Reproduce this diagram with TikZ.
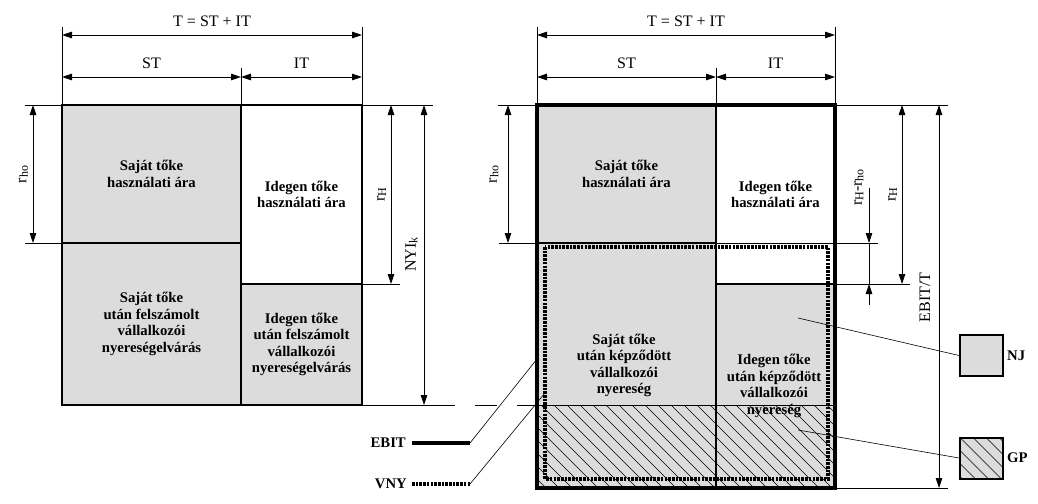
\documentclass[tikz,border=0pt]{standalone}
\usepackage{fontspec}
\setmainfont{Liberation Serif}
\usetikzlibrary{arrows.meta}
\definecolor{fillgray}{HTML}{DCDCDC}
\newcommand{\lowsub}[1]{\raisebox{-1.5pt}{\fontsize{12}{12}\selectfont #1}}
\begin{document}
\begin{tikzpicture}[x=1pt,y=-1pt,
  tip/.tip={Triangle[length=10pt,width=6.5pt]},
  dim/.style={line width=0.8pt,tip-tip},
  dimend/.style={line width=0.8pt,-tip},
  ext/.style={line width=0.7pt},
  lbl/.style={font=\fontsize{16}{18}\selectfont, inner sep=0pt},
  rlbl/.style={lbl, rotate=90},
  celltext/.style={font=\bfseries\fontsize{14.7}{16.4}\selectfont, align=center, inner sep=0pt},
  legtext/.style={font=\bfseries\fontsize{14.7}{16.4}\selectfont, inner sep=0pt},
  wall/.style={line width=2pt},
  outer/.style={line width=4pt},
  vny/.style={line width=3.2pt, dash pattern=on 2.6pt off 1.1pt},
  hatch/.style={line width=0.55pt},
  conn/.style={line width=0.6pt},
]
\useasboundingbox (0,0) rectangle (1038,503);

% ================= LEFT DIAGRAM =================
\fill[fillgray] (62,105) rectangle (241,405);
\fill[fillgray] (241,284) rectangle (362,405);
\draw[wall] (62,105) rectangle (362,405);
\draw[wall] (241,105) -- (241,405);
\draw[wall] (62,243) -- (241,243);
\draw[wall] (241,284) -- (362,284);

\node[celltext] (L1) at (151.5,174) {Saját tőke\\használati ára};
\node[celltext] (L2) at (301.5,194.5) {Idegen tőke\\használati ára};
\node[celltext] (L3) at (151.5,324) {Saját tőke\\után felszámolt\\vállalkozói\\nyereségelvárás};
\node[celltext] (L4) at (301.5,344.5) {Idegen tőke\\után felszámolt\\vállalkozói\\nyereségelvárás};

% extension lines
\coordinate (la1) at (62,27);   \coordinate (la2) at (62,105);
\coordinate (lb1) at (362,27);  \coordinate (lb2) at (362,105);
\coordinate (lc1) at (241,68);  \coordinate (lc2) at (241,105);
\draw[ext] (la1) -- (la2);
\draw[ext] (lb1) -- (lb2);
\draw[ext] (lc1) -- (lc2);
\coordinate (lh1) at (25,105);  \coordinate (lh2) at (433,105);
\draw[ext] (lh1) -- (lh2);
\coordinate (lr1) at (25,243);  \coordinate (lr2) at (62,243);
\draw[ext] (lr1) -- (lr2);
\coordinate (lH1) at (362,284); \coordinate (lH2) at (400,284);
\draw[ext] (lH1) -- (lH2);
\coordinate (lB1) at (362,405); \coordinate (lB2) at (455,405); \coordinate (lB3) at (537,405);
\draw[ext] (lB1) -- (lB2);
\draw[ext, dash pattern=on 22pt off 20pt, dash phase=22pt] (lB2) -- (lB3);

% dimension arrows
\coordinate (lT1) at (62,35);  \coordinate (lT2) at (362,35);
\draw[dim] (lT1) -- (lT2);
\node[lbl] (lTt) at (212,21) {T = ST + IT};
\coordinate (lS1) at (62,77);  \coordinate (lS2) at (241,77); \coordinate (lS3) at (362,77);
\draw[dim] (lS1) -- (lS2);
\draw[dim] (lS2) -- (lS3);
\node[lbl] (lSt) at (151.5,63) {ST};
\node[lbl] (lIt) at (301.5,63) {IT};
\coordinate (lrho1) at (33,105); \coordinate (lrho2) at (33,243);
\draw[dim] (lrho1) -- (lrho2);
\node[rlbl] (lrhot) at (23.5,174.5) {r\lowsub{ho}};
\coordinate (lrH1) at (391,105); \coordinate (lrH2) at (391,284);
\draw[dim] (lrH1) -- (lrH2);
\node[rlbl] (lrHt) at (381.5,195) {r\lowsub{H}};
\coordinate (lny1) at (424,105); \coordinate (lny2) at (424,405);
\draw[dim] (lny1) -- (lny2);
\node[rlbl] (lnyt) at (411.5,254.7) {NYI\lowsub{k}};

% ================= RIGHT DIAGRAM =================
\fill[fillgray] (537,105) rectangle (716,488);
\fill[fillgray] (716,284) rectangle (835,488);
\begin{scope}
  \clip (537,405) rectangle (835,488);
  \foreach \i in {0,...,30}
    \draw[hatch] ({450+\i*13},405) -- ++(90,90);
\end{scope}
\coordinate (rg1) at (537,405); \coordinate (rg2) at (835,405);
\draw[ext] (rg1) -- (rg2);
\draw[wall] (716,105) -- (716,488);
\draw[wall] (537,243) -- (716,243);
\draw[wall] (716,284) -- (835,284);

\node[celltext] (R1) at (626.5,174) {Saját tőke\\használati ára};
\node[celltext] (R2) at (775.5,194.5) {Idegen tőke\\használati ára};
\node[celltext] (R3) at (624,365.5) {Saját tőke\\után képződött\\vállalkozói\\nyereség};
\node[celltext] (R4) at (774,386) {Idegen tőke\\után képződött\\vállalkozói\\nyereség};

% extension lines
\coordinate (ra1) at (537,27);  \coordinate (ra2) at (537,105);
\coordinate (rb1) at (835,27);  \coordinate (rb2) at (835,105);
\coordinate (rc1) at (716,68);  \coordinate (rc2) at (716,105);
\draw[ext] (ra1) -- (ra2);
\draw[ext] (rb1) -- (rb2);
\draw[ext] (rc1) -- (rc2);
\coordinate (rh1) at (498,105); \coordinate (rh2) at (948,105);
\draw[ext] (rh1) -- (rh2);
\coordinate (rr1) at (499,243); \coordinate (rr2) at (878,243);
\draw[ext] (rr1) -- (rr2);
\coordinate (rH1) at (835,284); \coordinate (rH2) at (910,284);
\draw[ext] (rH1) -- (rH2);
\coordinate (rB1) at (835,488); \coordinate (rB2) at (948,488);
\draw[ext] (rB1) -- (rB2);

% VNY frame and outer EBIT frame
\draw[vny] (545,247) rectangle (828,479);
\draw[outer] (537,105) rectangle (835,488);

% dimension arrows
\coordinate (rT1) at (537,35);  \coordinate (rT2) at (835,35);
\draw[dim] (rT1) -- (rT2);
\node[lbl] (rTt) at (686,21) {T = ST + IT};
\coordinate (rS1) at (537,77);  \coordinate (rS2) at (716,77); \coordinate (rS3) at (835,77);
\draw[dim] (rS1) -- (rS2);
\draw[dim] (rS2) -- (rS3);
\node[lbl] (rSt) at (626.5,63) {ST};
\node[lbl] (rIt) at (775.5,63) {IT};
\coordinate (rrho1) at (508,105); \coordinate (rrho2) at (508,243);
\draw[dim] (rrho1) -- (rrho2);
\node[rlbl] (rrhot) at (494,174.5) {r\lowsub{ho}};
\coordinate (rd0) at (869,188); \coordinate (rd1) at (869,243);
\coordinate (rd2) at (869,284); \coordinate (rd3) at (869,305);
\draw[dimend] (rd0) -- (rd1);
\draw[ext] (rd1) -- (rd2);
\draw[dimend] (rd3) -- (rd2);
\node[rlbl] (rdt) at (859,187.5) {r\lowsub{H}-r\lowsub{ho}};
\coordinate (rrH1) at (902,105); \coordinate (rrH2) at (902,284);
\draw[dim] (rrH1) -- (rrH2);
\node[rlbl] (rrHt) at (892.5,195) {r\lowsub{H}};
\coordinate (reb1) at (939,105); \coordinate (reb2) at (939,488);
\draw[dim] (reb1) -- (reb2);
\node[rlbl] (rebt) at (925,297.5) {EBIT/T};

% ================= LEGEND =================
\node[legtext, anchor=east] (ebitt) at (406,443) {EBIT};
\coordinate (ebA) at (412,443); \coordinate (ebB) at (470,443); \coordinate (ebC) at (537,359);
\draw[line width=4pt] (ebA) -- (ebB);
\draw[conn] (ebB) -- (ebC);
\node[legtext, anchor=east] (vnyt) at (407,484) {VNY};
\coordinate (vyA) at (412,484); \coordinate (vyB) at (470,484); \coordinate (vyC) at (545,393);
\draw[vny] (vyA) -- (vyB);
\draw[conn] (vyB) -- (vyC);

\node[draw, fill=fillgray, line width=2pt, minimum width=43pt, minimum height=41pt, inner sep=0pt] (nj) at (981.5,355.5) {};
\node[legtext, anchor=west] (njt) at (1007,355.5) {NJ};
\node[draw, fill=fillgray, line width=2pt, minimum width=43pt, minimum height=41pt, inner sep=0pt,
  path picture={\foreach \k in {-4,...,4}
     \draw[hatch] ([xshift=\k*13pt]path picture bounding box.north west) -- ++(60,60);}] (gp) at (981.5,458) {};
\node[legtext, anchor=west] (gpt) at (1007,458) {GP};
\coordinate (njA) at (798,318);
\draw[conn] (njA) -- (nj.west);
\coordinate (gpA) at (798,430);
\draw[conn] (gpA) -- (gp.west);
\end{tikzpicture}
\end{document}
